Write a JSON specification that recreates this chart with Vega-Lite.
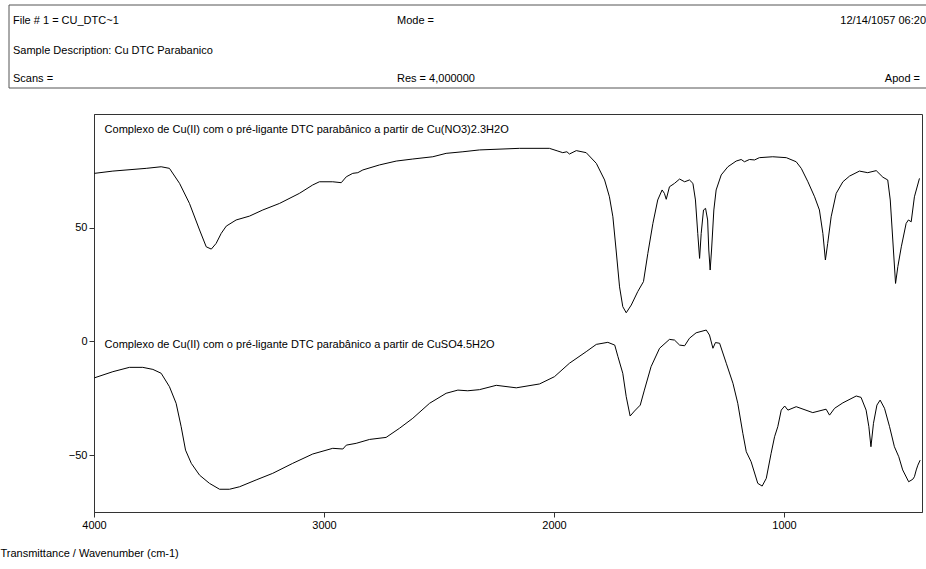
{
  "$schema": "https://vega.github.io/schema/vega-lite/v6.json",
  "width": 828,
  "height": 398,
  "autosize": {"type": "none"},
  "padding": {"left": 94, "top": 114, "right": 4, "bottom": 57},
  "background": "white",
  "config": {"font": "Liberation Sans"},
  "view": {"stroke": "#333"},
  "datasets": {
    "header": [
      {"col": 0, "row": 1, "text": "File # 1 = CU_DTC~1"},
      {"col": 0, "row": 2, "text": "Sample Description: Cu DTC Parabanico"},
      {"col": 0, "row": 3, "text": "Scans ="},
      {"col": 1, "row": 1, "text": "Mode ="},
      {"col": 1, "row": 3, "text": "Res = 4,000000"},
      {"col": 2, "row": 1, "text": "12/14/1057 06:20"},
      {"col": 3, "row": 3, "text": "Apod ="}
    ],
    "labels": [
      {"wn": 3954, "t": 93, "label": "Complexo de Cu(II) com o pré-ligante DTC parabânico a partir de Cu(NO3)2.3H2O"},
      {"wn": 3954, "t": -1.5, "label": "Complexo de Cu(II) com o pré-ligante DTC parabânico a partir de CuSO4.5H2O"}
    ],
    "spectra": [
      {"s": "A", "wn": 3998, "t": 73.9}, {"s": "A", "wn": 3918, "t": 74.9}, {"s": "A", "wn": 3773, "t": 76.1},
      {"s": "A", "wn": 3708, "t": 76.8}, {"s": "A", "wn": 3672, "t": 76.1}, {"s": "A", "wn": 3628, "t": 69.5},
      {"s": "A", "wn": 3585, "t": 60.7}, {"s": "A", "wn": 3541, "t": 49.0}, {"s": "A", "wn": 3512, "t": 41.6},
      {"s": "A", "wn": 3490, "t": 40.6}, {"s": "A", "wn": 3469, "t": 43.1}, {"s": "A", "wn": 3447, "t": 47.5},
      {"s": "A", "wn": 3425, "t": 50.7}, {"s": "A", "wn": 3382, "t": 53.4}, {"s": "A", "wn": 3324, "t": 55.1},
      {"s": "A", "wn": 3266, "t": 57.8}, {"s": "A", "wn": 3193, "t": 60.7}, {"s": "A", "wn": 3107, "t": 65.1},
      {"s": "A", "wn": 3049, "t": 68.8}, {"s": "A", "wn": 3020, "t": 70.2}, {"s": "A", "wn": 2962, "t": 70.2},
      {"s": "A", "wn": 2925, "t": 69.8}, {"s": "A", "wn": 2903, "t": 72.4}, {"s": "A", "wn": 2875, "t": 73.9},
      {"s": "A", "wn": 2853, "t": 74.2}, {"s": "A", "wn": 2831, "t": 75.4}, {"s": "A", "wn": 2759, "t": 77.6},
      {"s": "A", "wn": 2686, "t": 79.3}, {"s": "A", "wn": 2614, "t": 80.2}, {"s": "A", "wn": 2527, "t": 81.2},
      {"s": "A", "wn": 2469, "t": 82.7}, {"s": "A", "wn": 2396, "t": 83.4}, {"s": "A", "wn": 2324, "t": 84.2},
      {"s": "A", "wn": 2150, "t": 84.9}, {"s": "A", "wn": 2020, "t": 84.9}, {"s": "A", "wn": 1983, "t": 83.7},
      {"s": "A", "wn": 1962, "t": 83.0}, {"s": "A", "wn": 1944, "t": 83.4}, {"s": "A", "wn": 1933, "t": 82.4},
      {"s": "A", "wn": 1903, "t": 83.9}, {"s": "A", "wn": 1860, "t": 83.0}, {"s": "A", "wn": 1816, "t": 78.3},
      {"s": "A", "wn": 1780, "t": 71.0}, {"s": "A", "wn": 1759, "t": 63.6}, {"s": "A", "wn": 1744, "t": 54.8},
      {"s": "A", "wn": 1730, "t": 40.2}, {"s": "A", "wn": 1715, "t": 24.0}, {"s": "A", "wn": 1701, "t": 15.3},
      {"s": "A", "wn": 1686, "t": 12.6}, {"s": "A", "wn": 1664, "t": 16.0}, {"s": "A", "wn": 1636, "t": 21.9},
      {"s": "A", "wn": 1611, "t": 26.3}, {"s": "A", "wn": 1592, "t": 38.7}, {"s": "A", "wn": 1570, "t": 51.9},
      {"s": "A", "wn": 1549, "t": 62.2}, {"s": "A", "wn": 1530, "t": 66.6}, {"s": "A", "wn": 1520, "t": 65.1},
      {"s": "A", "wn": 1512, "t": 62.5}, {"s": "A", "wn": 1498, "t": 68.0}, {"s": "A", "wn": 1476, "t": 69.5},
      {"s": "A", "wn": 1454, "t": 71.4}, {"s": "A", "wn": 1432, "t": 70.2}, {"s": "A", "wn": 1411, "t": 71.0},
      {"s": "A", "wn": 1396, "t": 69.5}, {"s": "A", "wn": 1385, "t": 62.2}, {"s": "A", "wn": 1375, "t": 47.5},
      {"s": "A", "wn": 1367, "t": 36.5}, {"s": "A", "wn": 1360, "t": 47.5}, {"s": "A", "wn": 1350, "t": 57.8},
      {"s": "A", "wn": 1341, "t": 58.5}, {"s": "A", "wn": 1332, "t": 53.4}, {"s": "A", "wn": 1327, "t": 40.2},
      {"s": "A", "wn": 1321, "t": 31.4}, {"s": "A", "wn": 1315, "t": 40.2}, {"s": "A", "wn": 1305, "t": 57.8},
      {"s": "A", "wn": 1295, "t": 66.6}, {"s": "A", "wn": 1273, "t": 73.2}, {"s": "A", "wn": 1244, "t": 76.8},
      {"s": "A", "wn": 1208, "t": 79.3}, {"s": "A", "wn": 1186, "t": 80.0}, {"s": "A", "wn": 1172, "t": 79.0},
      {"s": "A", "wn": 1150, "t": 80.0}, {"s": "A", "wn": 1128, "t": 79.8}, {"s": "A", "wn": 1107, "t": 80.8},
      {"s": "A", "wn": 1049, "t": 81.2}, {"s": "A", "wn": 990, "t": 80.8}, {"s": "A", "wn": 947, "t": 79.0},
      {"s": "A", "wn": 925, "t": 76.1}, {"s": "A", "wn": 896, "t": 70.2}, {"s": "A", "wn": 867, "t": 63.6},
      {"s": "A", "wn": 846, "t": 57.8}, {"s": "A", "wn": 831, "t": 47.5}, {"s": "A", "wn": 820, "t": 35.8},
      {"s": "A", "wn": 810, "t": 43.1}, {"s": "A", "wn": 795, "t": 54.8}, {"s": "A", "wn": 773, "t": 65.1},
      {"s": "A", "wn": 744, "t": 70.2}, {"s": "A", "wn": 715, "t": 72.7}, {"s": "A", "wn": 672, "t": 74.9},
      {"s": "A", "wn": 636, "t": 74.2}, {"s": "A", "wn": 599, "t": 75.1}, {"s": "A", "wn": 570, "t": 72.2},
      {"s": "A", "wn": 549, "t": 71.0}, {"s": "A", "wn": 538, "t": 62.2}, {"s": "A", "wn": 527, "t": 44.6},
      {"s": "A", "wn": 515, "t": 25.5}, {"s": "A", "wn": 505, "t": 32.9}, {"s": "A", "wn": 490, "t": 41.6},
      {"s": "A", "wn": 469, "t": 51.9}, {"s": "A", "wn": 459, "t": 53.4}, {"s": "A", "wn": 447, "t": 52.6},
      {"s": "A", "wn": 433, "t": 63.6}, {"s": "A", "wn": 411, "t": 71.7},
      {"s": "B", "wn": 3998, "t": -16.0}, {"s": "B", "wn": 3918, "t": -13.3}, {"s": "B", "wn": 3846, "t": -11.4},
      {"s": "B", "wn": 3788, "t": -11.4}, {"s": "B", "wn": 3744, "t": -12.3}, {"s": "B", "wn": 3708, "t": -14.0},
      {"s": "B", "wn": 3672, "t": -19.9}, {"s": "B", "wn": 3643, "t": -27.2}, {"s": "B", "wn": 3621, "t": -37.5},
      {"s": "B", "wn": 3602, "t": -47.8}, {"s": "B", "wn": 3577, "t": -53.6}, {"s": "B", "wn": 3541, "t": -58.8},
      {"s": "B", "wn": 3498, "t": -62.4}, {"s": "B", "wn": 3454, "t": -65.0}, {"s": "B", "wn": 3411, "t": -65.0},
      {"s": "B", "wn": 3367, "t": -63.9}, {"s": "B", "wn": 3295, "t": -60.9}, {"s": "B", "wn": 3223, "t": -58.0},
      {"s": "B", "wn": 3136, "t": -53.6}, {"s": "B", "wn": 3049, "t": -49.5}, {"s": "B", "wn": 2962, "t": -47.0},
      {"s": "B", "wn": 2918, "t": -47.3}, {"s": "B", "wn": 2903, "t": -45.6}, {"s": "B", "wn": 2860, "t": -44.8},
      {"s": "B", "wn": 2802, "t": -43.1}, {"s": "B", "wn": 2730, "t": -42.2}, {"s": "B", "wn": 2672, "t": -38.2},
      {"s": "B", "wn": 2614, "t": -33.8}, {"s": "B", "wn": 2541, "t": -27.2}, {"s": "B", "wn": 2469, "t": -22.8},
      {"s": "B", "wn": 2418, "t": -21.4}, {"s": "B", "wn": 2375, "t": -21.7}, {"s": "B", "wn": 2324, "t": -21.2},
      {"s": "B", "wn": 2251, "t": -19.3}, {"s": "B", "wn": 2164, "t": -20.4}, {"s": "B", "wn": 2063, "t": -18.7},
      {"s": "B", "wn": 1998, "t": -15.5}, {"s": "B", "wn": 1933, "t": -9.6}, {"s": "B", "wn": 1860, "t": -4.5},
      {"s": "B", "wn": 1816, "t": -1.3}, {"s": "B", "wn": 1766, "t": -0.4}, {"s": "B", "wn": 1736, "t": -1.6},
      {"s": "B", "wn": 1722, "t": -6.7}, {"s": "B", "wn": 1701, "t": -14.0}, {"s": "B", "wn": 1686, "t": -24.3},
      {"s": "B", "wn": 1669, "t": -32.8}, {"s": "B", "wn": 1650, "t": -30.6}, {"s": "B", "wn": 1625, "t": -28.0},
      {"s": "B", "wn": 1607, "t": -21.4}, {"s": "B", "wn": 1578, "t": -11.1}, {"s": "B", "wn": 1541, "t": -3.0},
      {"s": "B", "wn": 1498, "t": 0.9}, {"s": "B", "wn": 1476, "t": 0.6}, {"s": "B", "wn": 1454, "t": -1.6},
      {"s": "B", "wn": 1432, "t": -1.9}, {"s": "B", "wn": 1411, "t": 1.4}, {"s": "B", "wn": 1382, "t": 3.8},
      {"s": "B", "wn": 1338, "t": 5.0}, {"s": "B", "wn": 1324, "t": 2.8}, {"s": "B", "wn": 1309, "t": -3.0},
      {"s": "B", "wn": 1298, "t": -0.5}, {"s": "B", "wn": 1280, "t": -0.8}, {"s": "B", "wn": 1251, "t": -9.6},
      {"s": "B", "wn": 1222, "t": -18.4}, {"s": "B", "wn": 1201, "t": -27.2}, {"s": "B", "wn": 1179, "t": -40.4},
      {"s": "B", "wn": 1164, "t": -48.5}, {"s": "B", "wn": 1143, "t": -52.9}, {"s": "B", "wn": 1114, "t": -62.4},
      {"s": "B", "wn": 1095, "t": -63.6}, {"s": "B", "wn": 1077, "t": -60.2}, {"s": "B", "wn": 1056, "t": -49.2},
      {"s": "B", "wn": 1041, "t": -41.9}, {"s": "B", "wn": 1027, "t": -37.5}, {"s": "B", "wn": 1012, "t": -30.2},
      {"s": "B", "wn": 997, "t": -28.4}, {"s": "B", "wn": 983, "t": -30.2}, {"s": "B", "wn": 947, "t": -28.7},
      {"s": "B", "wn": 875, "t": -31.3}, {"s": "B", "wn": 817, "t": -29.8}, {"s": "B", "wn": 802, "t": -32.4},
      {"s": "B", "wn": 780, "t": -29.4}, {"s": "B", "wn": 744, "t": -27.0}, {"s": "B", "wn": 686, "t": -24.0},
      {"s": "B", "wn": 665, "t": -24.6}, {"s": "B", "wn": 643, "t": -30.2}, {"s": "B", "wn": 631, "t": -37.5},
      {"s": "B", "wn": 622, "t": -46.3}, {"s": "B", "wn": 611, "t": -36.0}, {"s": "B", "wn": 596, "t": -28.0},
      {"s": "B", "wn": 582, "t": -25.8}, {"s": "B", "wn": 563, "t": -29.4}, {"s": "B", "wn": 541, "t": -37.5},
      {"s": "B", "wn": 520, "t": -46.3}, {"s": "B", "wn": 501, "t": -50.7}, {"s": "B", "wn": 484, "t": -56.5},
      {"s": "B", "wn": 458, "t": -61.7}, {"s": "B", "wn": 440, "t": -60.6}, {"s": "B", "wn": 433, "t": -59.5},
      {"s": "B", "wn": 425, "t": -56.5}, {"s": "B", "wn": 418, "t": -54.4}, {"s": "B", "wn": 408, "t": -52.2}
    ]
  },
  "resolve": {"scale": {"x": "independent", "y": "independent"}, "axis": {"x": "independent", "y": "independent"}},
  "layer": [
    {
      "layer": [
        {
          "data": {"name": "spectra"},
          "mark": {"type": "line", "color": "black", "strokeWidth": 1, "clip": true},
          "encoding": {
            "x": {"field": "wn", "type": "quantitative", "scale": {"domain": [4000, 400], "zero": false, "nice": false},
              "axis": {"values": [4000, 3000, 2000, 1000], "format": "d", "title": "Transmittance / Wavenumber (cm-1)", "titleX": -94, "titleY": 41, "titleAlign": "left", "titleAnchor": null, "titleBaseline": "middle", "titleFontSize": 11, "titleFontWeight": "normal", "titleColor": "black", "grid": false, "tickSize": 5, "labelPadding": 2, "labelFontSize": 11, "labelColor": "black", "labelFlush": false, "labelOverlap": false, "domainColor": "#333", "tickColor": "#333"}},
            "y": {"field": "t", "type": "quantitative", "scale": {"domain": [-75, 100], "zero": false, "nice": false},
              "axis": {"values": [-50, 0, 50], "format": "d", "title": null, "grid": false, "tickSize": 5, "labelPadding": 2, "labelFontSize": 11, "labelColor": "black", "labelFlush": false, "domainColor": "#333", "tickColor": "#333"}},
            "detail": {"field": "s"}
          }
        },
        {
          "data": {"name": "labels"},
          "mark": {"type": "text", "align": "left", "baseline": "middle", "fontSize": 11, "color": "black"},
          "encoding": {
            "x": {"field": "wn", "type": "quantitative"},
            "y": {"field": "t", "type": "quantitative"},
            "text": {"field": "label"}
          }
        }
      ]
    },
    {
      "data": {"name": "header"},
      "transform": [{"aggregate": [{"op": "count", "as": "n"}]}],
      "mark": {"type": "rect", "fill": null, "fillOpacity": 0, "stroke": "#555", "strokeWidth": 1, "clip": false},
      "encoding": {
        "x": {"datum": 0, "type": "quantitative", "scale": {"domain": [0, 1], "range": [-85, 845], "zero": false, "nice": false}, "axis": null},
        "x2": {"datum": 1},
        "y": {"datum": 0, "type": "quantitative", "scale": {"domain": [0, 1], "range": [-109, -26], "zero": false, "nice": false}, "axis": null},
        "y2": {"datum": 1}
      }
    },
    {
      "data": {"name": "header"},
      "transform": [{"filter": "datum.col < 2"}],
      "mark": {"type": "text", "align": "left", "baseline": "middle", "fontSize": 11, "color": "black"},
      "encoding": {
        "x": {"field": "col", "type": "quantitative", "scale": {"domain": [0, 1], "range": [-81, 303], "zero": false, "nice": false}, "axis": null},
        "y": {"field": "row", "type": "quantitative", "scale": {"domain": [1, 2, 3], "range": [-93, -63, -35], "zero": false, "nice": false}, "axis": null},
        "text": {"field": "text"}
      }
    },
    {
      "data": {"name": "header"},
      "transform": [{"filter": "datum.col >= 2"}],
      "mark": {"type": "text", "align": "right", "baseline": "middle", "fontSize": 11, "color": "black"},
      "encoding": {
        "x": {"field": "col", "type": "quantitative", "scale": {"domain": [2, 3], "range": [832, 826], "zero": false, "nice": false}, "axis": null},
        "y": {"field": "row", "type": "quantitative", "scale": {"domain": [1, 2, 3], "range": [-93, -63, -35], "zero": false, "nice": false}, "axis": null},
        "text": {"field": "text"}
      }
    }
  ]
}
